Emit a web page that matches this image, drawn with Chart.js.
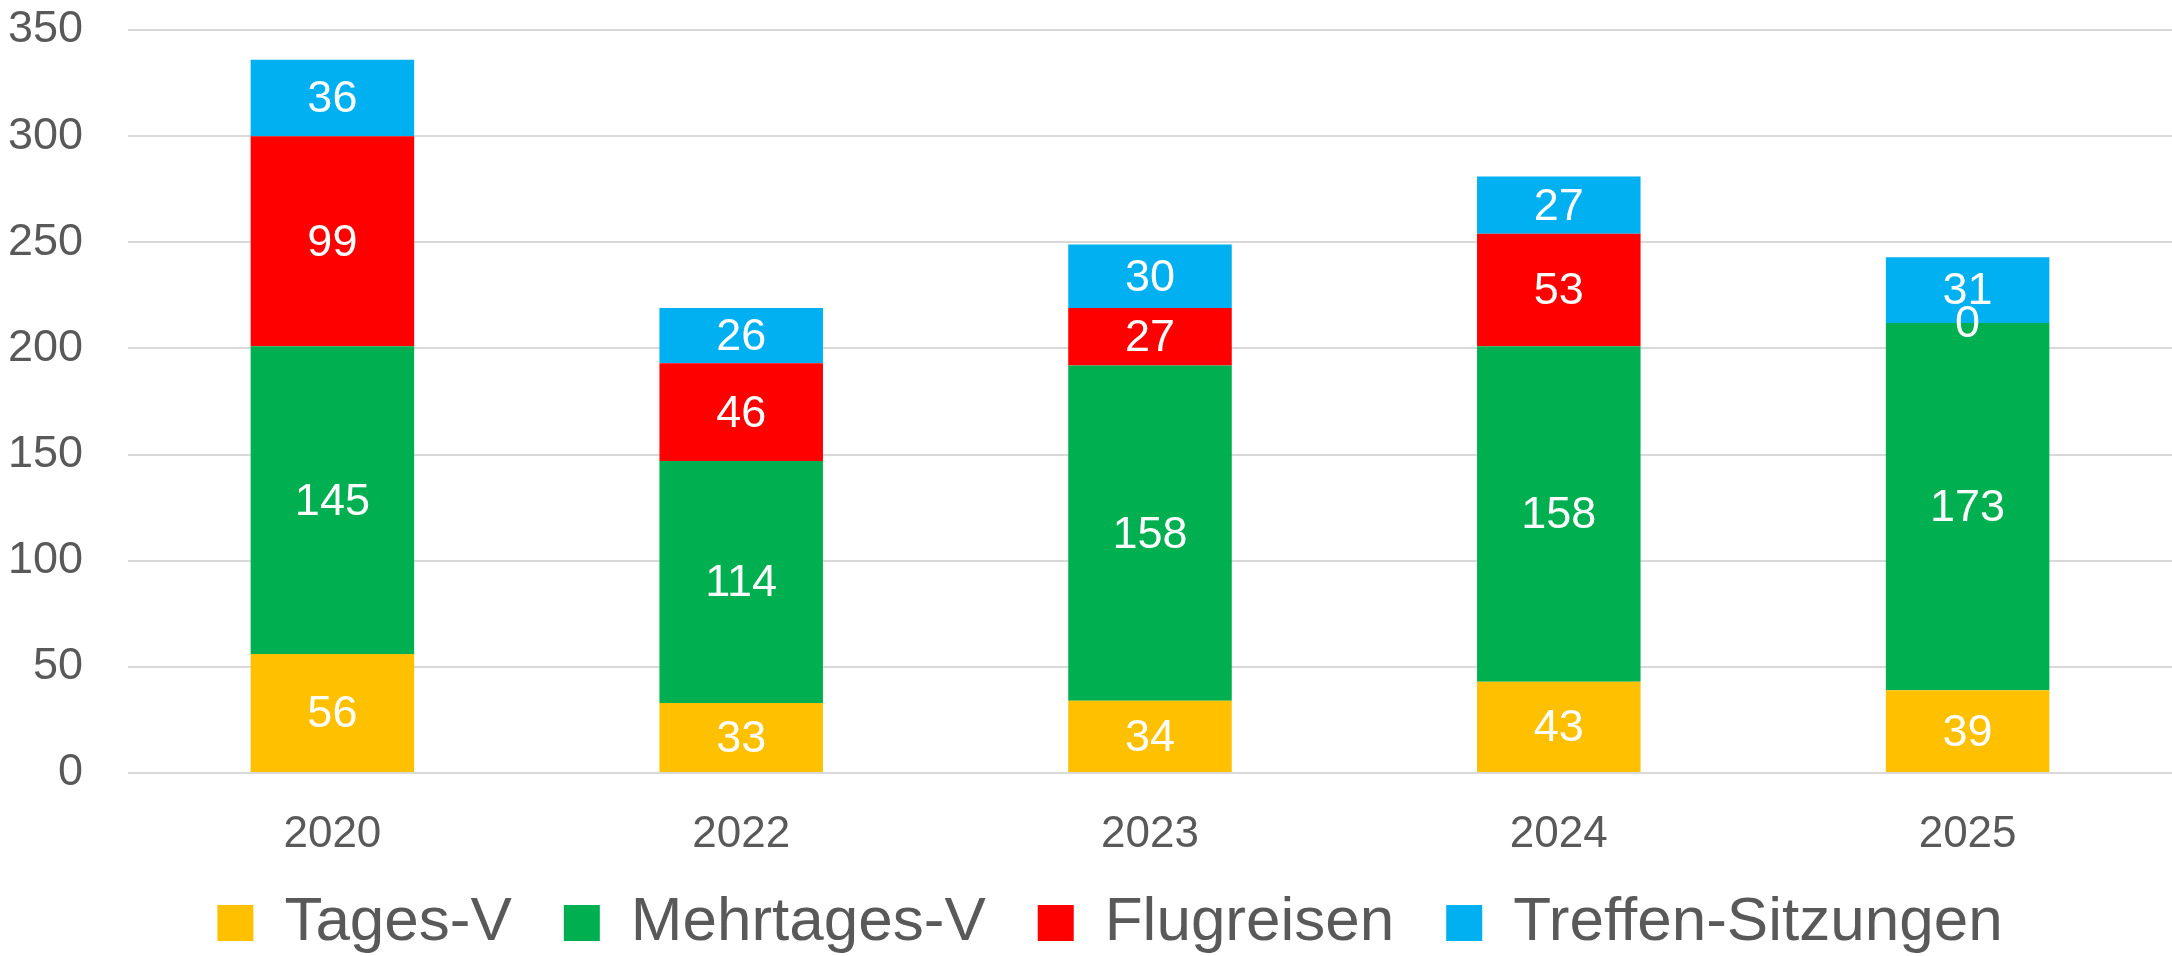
<!DOCTYPE html>
<html>
<head>
<meta charset="utf-8">
<script src="https://cdn.jsdelivr.net/npm/chart.js@4.4.1/dist/chart.umd.min.js"></script>
<style>
html,body{margin:0;padding:0;background:#fff;}
#wrap{width:2172px;height:956px;position:relative;}
</style>
</head>
<body>
<div id="wrap"><canvas id="c" width="2172" height="956"></canvas></div>
<script>
const categories = ["2020", "2022", "2023", "2024", "2025"];
const tagesV = [56, 33, 34, 43, 39];
const mehrtagesV = [145, 114, 158, 158, 173];
const flugreisen = [99, 46, 27, 53, 0];
const treffenSitzungen = [36, 26, 30, 27, 31];
const seriesNames = ["Tages-V", "Mehrtages-V", "Flugreisen", "Treffen-Sitzungen"];
const yTicks = [0, 50, 100, 150, 200, 250, 300, 350];

const FONT = "'Liberation Sans', Arial, sans-serif";
const colors = ["#FFC000", "#00B050", "#FF0000", "#00B0F0"];

const labelPlugin = {
  id: 'segLabels',
  afterDatasetsDraw(chart) {
    const ctx = chart.ctx;
    ctx.save();
    ctx.fillStyle = '#FFFFFF';
    ctx.font = "45px " + FONT;
    ctx.textAlign = 'center';
    ctx.textBaseline = 'middle';
    chart.data.datasets.forEach((ds, i) => {
      const meta = chart.getDatasetMeta(i);
      meta.data.forEach((bar, j) => {
        const p = bar.getProps(['x', 'y', 'base'], true);
        ctx.fillText(String(ds.data[j]), p.x, (p.y + p.base) / 2 + 2);
      });
    });
    ctx.restore();
  }
};

const legendShift = {
  id: 'legendShift',
  afterLayout(chart) {
    const lg = chart.legend;
    if (!lg) return;
    lg.left += 24; lg.right += 24;
    lg.top -= 19; lg.bottom -= 19;
  }
};

new Chart(document.getElementById('c'), {
  type: 'bar',
  data: {
    labels: categories,
    datasets: [
      { label: seriesNames[0], data: tagesV, backgroundColor: colors[0] },
      { label: seriesNames[1], data: mehrtagesV, backgroundColor: colors[1] },
      { label: seriesNames[2], data: flugreisen, backgroundColor: colors[2] },
      { label: seriesNames[3], data: treffenSitzungen, backgroundColor: colors[3] }
    ]
  },
  options: {
    responsive: false,
    animation: false,
    layout: { padding: { top: 30, right: 0, left: 0, bottom: -27 } },
    datasets: { bar: { categoryPercentage: 1.0, barPercentage: 0.4, borderWidth: 0 } },
    scales: {
      x: {
        stacked: true,
        grid: { display: false, drawTicks: false },
        border: { display: false },
        ticks: { color: '#595959', font: { family: FONT, size: 44 }, padding: 35 },
        afterFit(s) { s.height = 86; s.paddingLeft = 0; s.paddingRight = 0; }
      },
      y: {
        stacked: true,
        min: 0, max: 350,
        afterBuildTicks(s) { s.ticks = yTicks.map(v => ({ value: v })); },
        grid: { color: '#D9D9D9', lineWidth: 2, drawTicks: false },
        border: { display: false },
        ticks: { color: '#595959', font: { family: FONT, size: 45 }, padding: 45 },
        afterFit(s) { s.width = 128; s.paddingTop = 0; s.paddingBottom = 0; }
      }
    },
    plugins: {
      tooltip: { enabled: false },
      legend: {
        position: 'bottom',
        labels: {
          color: '#595959',
          font: { family: FONT, size: 62 },
          boxWidth: 36, boxHeight: 36,
          padding: 52
        }
      }
    }
  },
  plugins: [labelPlugin, legendShift]
});
</script>
</body>
</html>
